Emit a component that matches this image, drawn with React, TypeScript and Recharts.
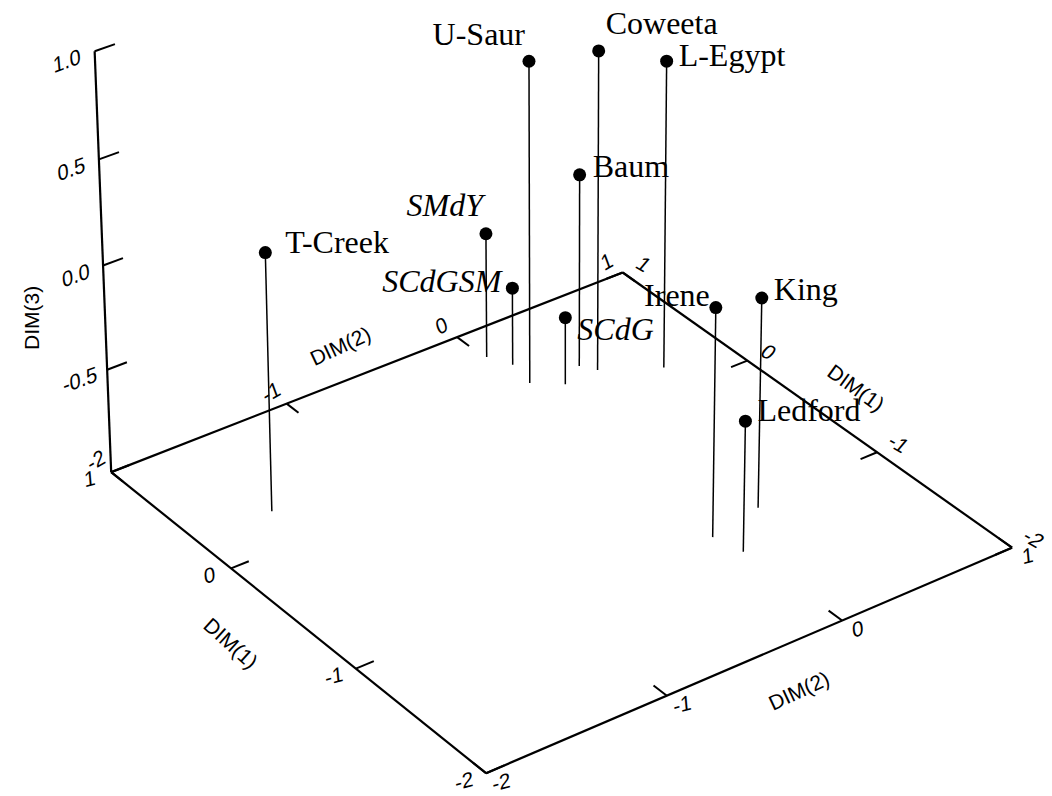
import React from 'react';
import { ScatterChart, Scatter, XAxis, YAxis, ReferenceLine } from 'recharts';

// site scores on the three MDS dimensions
const sites = ['T-Creek', 'SMdY', 'SCdGSM', 'U-Saur', 'SCdG', 'Baum', 'Coweeta', 'L-Egypt', 'Irene', 'King', 'Ledford'];
const dim1 = [0.28, 0.77, 0.64, 0.46, 0.35, 0.44, 0.36, 0.19, -1.11, -1.04, -1.29];
const dim2 = [-1.58, 0.01, 0.07, 0.04, 0.17, 0.32, 0.37, 0.64, -0.06, 0.26, -0.02];
const dim3 = [0.24, -0.39, -0.62, 0.56, -0.67, -0.06, 0.55, 0.49, 0.1, 0.01, -0.37];
const italicSites = ['SMdY', 'SCdGSM', 'SCdG'];

// axis ranges and ticks
const dim1Range = [-2, 1];
const dim2Range = [-2, 1];
const dim3Range = [-1, 1];
const dim1Ticks = [1, 0, -1, -2];
const dim2Ticks = [-2, -1, 0, 1];
const dim3Ticks = [-0.5, 0, 0.5, 1];

const W = 1052;
const H = 796;

// camera for the 3D box (degrees, perspective distance in box half-widths)
const view = { azimuth: 126.4, elevation: 32, distance: 22, scale: 328, cx: 558, cy: 302, height: 0.76 };

const serif = "'Liberation Serif', 'Times New Roman', serif";
const sans = "'Liberation Sans', Arial, sans-serif";

const siteLabelLayout: Record<string, { dx: number; dy: number; anchor: 'start' | 'end' }> = {
    'T-Creek': { dx: 20, dy: 0, anchor: 'start' },
    SMdY: { dx: -3, dy: -18, anchor: 'end' },
    SCdGSM: { dx: -11, dy: 4, anchor: 'end' },
    'U-Saur': { dx: -4, dy: -16, anchor: 'end' },
    SCdG: { dx: 12, dy: 22, anchor: 'start' },
    Baum: { dx: 13, dy: 2, anchor: 'start' },
    Coweeta: { dx: 7, dy: -17, anchor: 'start' },
    'L-Egypt': { dx: 12, dy: 5, anchor: 'start' },
    Irene: { dx: -6, dy: -2, anchor: 'end' },
    King: { dx: 12, dy: 2, anchor: 'start' },
    Ledford: { dx: 12, dy: 0, anchor: 'start' },
};

function norm(v: number, range: number[]) {
    const mid = (range[0] + range[1]) / 2;
    const half = (range[1] - range[0]) / 2;
    return (v - mid) / half;
}

function project(d1: number, d2: number, d3: number) {
    const a = norm(d1, dim1Range);
    const b = norm(d2, dim2Range);
    const c = norm(d3, dim3Range) * view.height;
    const psi = (view.azimuth * Math.PI) / 180;
    const phi = (view.elevation * Math.PI) / 180;
    const pr = a * Math.cos(psi) + b * Math.sin(psi);
    const ph = -a * Math.sin(psi) + b * Math.cos(psi);
    const pd = Math.cos(phi) * ph + Math.sin(phi) * c;
    const pu = -Math.sin(phi) * ph + Math.cos(phi) * c;
    const w = 1 - pd / view.distance;
    return { x: view.cx + (view.scale * pr) / w, y: view.cy - (view.scale * pu) / w };
}

type Seg = { p: { x: number; y: number }; q: { x: number; y: number }; w: number };
const seg = (a: number[], b: number[], w: number): Seg => ({
    p: project(a[0], a[1], a[2]),
    q: project(b[0], b[1], b[2]),
    w,
});

const [x0, x1] = dim1Range;
const [y0, y1] = dim2Range;
const [z0, z1] = dim3Range;
const tickLen = 0.11;

// box frame: floor and the DIM(3) axis
const frame: Seg[] = [
    seg([x1, y0, z0], [x0, y0, z0], 2.2),
    seg([x0, y0, z0], [x0, y1, z0], 2.2),
    seg([x0, y1, z0], [x1, y1, z0], 2.2),
    seg([x1, y1, z0], [x1, y0, z0], 2.2),
    seg([x1, y0, z0], [x1, y0, z1], 2.2),
];
const ticks: Seg[] = [
    ...dim3Ticks.map((v) => seg([x1, y0, v], [x1, y0 + tickLen, v], 2)),
    ...dim1Ticks.map((v) => seg([v, y0, z0], [v, y0 + tickLen * 0.9, z0], 2)),
    ...dim1Ticks.map((v) => seg([v, y1, z0], [v, y1 - tickLen * 0.9, z0], 2)),
    ...dim2Ticks.map((v) => seg([x0, v, z0], [x0 + tickLen * 0.9, v, z0], 2)),
    ...dim2Ticks.map((v) => seg([x1, v, z0], [x1 - tickLen * 0.9, v, z0], 2)),
];
const dropLines: Seg[] = sites.map((_, i) => seg([dim1[i], dim2[i], dim3[i]], [dim1[i], dim2[i], z0], 1.5));

const points = sites.map((name, i) => ({
    ...project(dim1[i], dim2[i], dim3[i]),
    name,
    italic: italicSites.includes(name),
}));

type AxisText = { x: number; y: number; text: string; rot: number; skew: number; size: number };
const at = (d: number[], text: string, rot: number, skew = 0, dx = 0, dy = 0): AxisText => {
    const p = project(d[0], d[1], d[2]);
    return { x: p.x + dx, y: p.y + dy, text, rot, skew, size: 21 };
};
const fmt = (v: number) => String(v);

const axisTexts: AxisText[] = [
    ...dim3Ticks.map((v) => at([x1, y0 - 0.15, v], v.toFixed(1), -20, -15)),
    ...dim1Ticks.map((v) => at([v, y0 - 0.12, z0], fmt(v), -15, -10, 0, -2)),
    ...dim1Ticks.map((v) => at([v, y1 + 0.13, z0], fmt(v), 30, -10)),
    ...dim2Ticks.map((v) => at([x0 - 0.1, v, z0], fmt(v), -15, -10, 2, -2)),
    ...dim2Ticks.map((v) => at([x1 + 0.13, v, z0], fmt(v), -30, -10)),
    at([x1, y0, -0.25], 'DIM(3)', -90, 0, -74, 0),
    at([-0.5, y0 - 0.34, z0], 'DIM(1)', 42),
    at([-0.5, y1 + 0.27, z0], 'DIM(1)', 36),
    at([x0 - 0.32, -0.5, z0], 'DIM(2)', -25),
    at([x1 + 0.27, -0.5, z0], 'DIM(2)', -25),
];

const SiteMark = (props: any) => {
    const { cx, cy, payload } = props;
    const st = siteLabelLayout[payload.name];
    return (
        <g>
            <circle cx={cx} cy={cy} r={6.5} fill="#000" />
            <text
                x={cx + st.dx}
                y={cy + st.dy}
                textAnchor={st.anchor}
                fontFamily={serif}
                fontSize={32}
                fontStyle={payload.italic ? 'italic' : 'normal'}
                fill="#000"
            >
                {payload.name}
            </text>
        </g>
    );
};

const AxisLabel = (props: any) => {
    const { cx, cy, payload } = props;
    return (
        <text
            x={0}
            y={0}
            transform={`translate(${cx} ${cy}) rotate(${payload.rot}) skewX(${payload.skew})`}
            textAnchor="middle"
            dominantBaseline="central"
            fontFamily={sans}
            fontSize={payload.size}
            fill="#000"
        >
            {payload.text}
        </text>
    );
};

export default function App() {
    const lines = [...frame, ...ticks, ...dropLines];
    return (
        <div style={{ position: 'absolute', left: 0, top: 0, width: W, height: H, background: '#fff' }}>
            <ScatterChart width={W} height={H} margin={{ top: 0, right: 0, bottom: 0, left: 0 }}>
                <XAxis type="number" dataKey="x" domain={[0, W]} hide allowDataOverflow />
                <YAxis type="number" dataKey="y" domain={[0, H]} reversed hide allowDataOverflow />
                {lines.map((s, i) => (
                    <ReferenceLine
                        key={`seg-${i}`}
                        segment={[s.p, s.q]}
                        stroke="#000"
                        strokeWidth={s.w}
                        ifOverflow="visible"
                    />
                ))}
                <Scatter data={axisTexts} shape={AxisLabel} isAnimationActive={false} />
                <Scatter data={points} shape={SiteMark} isAnimationActive={false} />
            </ScatterChart>
        </div>
    );
}
